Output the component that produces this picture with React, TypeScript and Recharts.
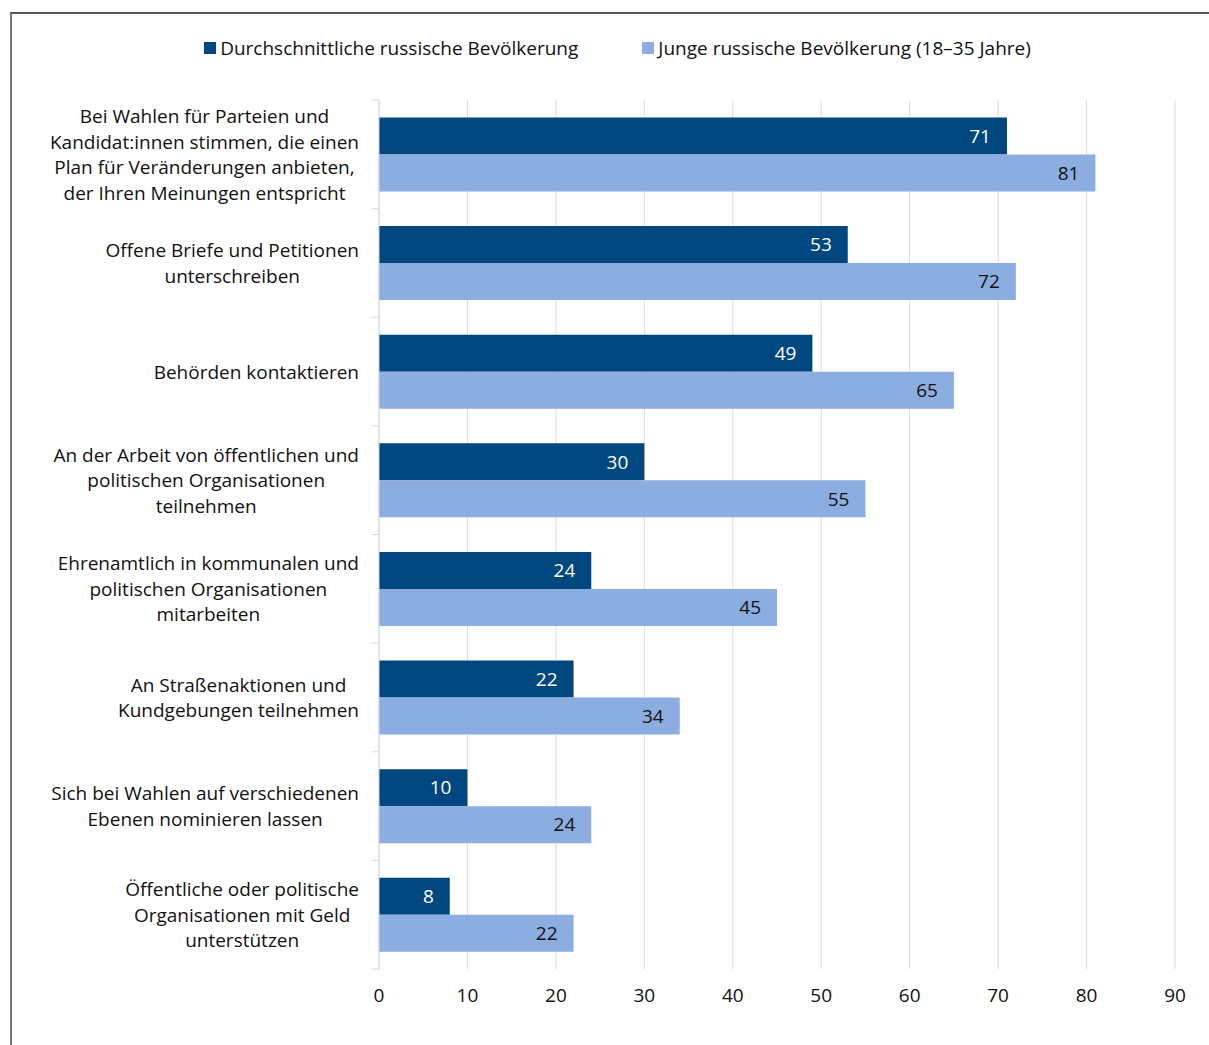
import React from "react";
import { BarChart, Bar, XAxis, YAxis, CartesianGrid, LabelList } from "recharts";

const categories = [
  "Bei Wahlen für Parteien und\nKandidat:innen stimmen, die einen\nPlan für Veränderungen anbieten,\nder Ihren Meinungen entspricht",
  "Offene Briefe und Petitionen\nunterschreiben",
  "Behörden kontaktieren",
  "An der Arbeit von öffentlichen und\npolitischen Organisationen\nteilnehmen",
  "Ehrenamtlich in kommunalen und\npolitischen Organisationen\nmitarbeiten",
  "An Straßenaktionen und\nKundgebungen teilnehmen",
  "Sich bei Wahlen auf verschiedenen\nEbenen nominieren lassen",
  "Öffentliche oder politische\nOrganisationen mit Geld\nunterstützen",
];
const averagePopulation = [71, 53, 49, 30, 24, 22, 10, 8];
const youngPopulation = [81, 72, 65, 55, 45, 34, 24, 22];
const xTicks = [0, 10, 20, 30, 40, 50, 60, 70, 80, 90];
const seriesNames = [
  "Durchschnittliche russische Bevölkerung",
  "Junge russische Bevölkerung (18–35 Jahre)",
];

const DARK = "#00467f";
const LIGHT = "#8badE0";
const FONT = "'Open Sans', 'Noto Sans', sans-serif";
const FONT_SIZE = 19;

const W = 1209;
const H = 1045;
// xaxis default height (30) is added to the bottom offset
const MARGIN = { top: 100, right: 34, bottom: 46, left: 0 };
const Y_AXIS_W = 379;
const BAND = (H - MARGIN.top - MARGIN.bottom - 30) / categories.length;

const data = categories.map((category, i) => ({
  category,
  avg: averagePopulation[i],
  young: youngPopulation[i],
}));

let ctx: CanvasRenderingContext2D | null = null;
function measure(s: string) {
  if (!ctx) {
    ctx = document.createElement("canvas").getContext("2d");
    if (ctx) ctx.font = `${FONT_SIZE}px ${FONT}`;
  }
  return ctx ? ctx.measureText(s).width : s.length * 9;
}

function CategoryTick(props: any) {
  const { x, y, payload, index } = props;
  const lines: string[] = String(payload.value).split("\n");
  const widest = Math.max(...lines.map(measure));
  const cx = x - 20 - widest / 2;
  const lh = 25.5;
  const y0 = y - ((lines.length - 1) * lh) / 2;
  return (
    <g>
      {index === 0 && (
        <line x1={x - 7} x2={x} y1={y - BAND / 2} y2={y - BAND / 2} stroke="#d9d9d9" />
      )}
      <line x1={x - 7} x2={x} y1={y + BAND / 2} y2={y + BAND / 2} stroke="#d9d9d9" />
      {lines.map((l, i) => (
        <text
          key={i}
          x={cx}
          y={y0 + i * lh}
          textAnchor="middle"
          dominantBaseline="central"
          fontSize={FONT_SIZE}
          fontFamily={FONT}
          fill="#111"
        >
          {l}
        </text>
      ))}
    </g>
  );
}

function LegendBox() {
  const colors = [DARK, LIGHT];
  return (
    <div
      style={{
        position: "absolute",
        top: 35,
        left: 0,
        width: W,
        display: "flex",
        justifyContent: "center",
        gap: 64,
        paddingLeft: 26,
        boxSizing: "border-box",
        fontFamily: FONT,
        fontSize: FONT_SIZE,
        color: "#111",
      }}
    >
      {seriesNames.map((n, i) => (
        <div key={n} style={{ display: "flex", alignItems: "center" }}>
          <span
            style={{ width: 12, height: 12, background: colors[i], marginRight: 4, display: "inline-block" }}
          />
          {n}
        </div>
      ))}
    </div>
  );
}

export default function App() {
  return (
    <div
      style={{
        position: "absolute",
        left: 0,
        top: 0,
        width: W,
        height: H,
        overflow: "hidden",
        background: "#fff",
      }}
    >
      <div
        style={{
          position: "absolute",
          left: 10,
          top: 12,
          width: W + 20,
          height: H + 20,
          borderLeft: "2px solid #777",
          borderTop: "2px solid #555",
        }}
      />
      <LegendBox />
      <div style={{ position: "absolute", left: 0, top: 0 }}>
        <BarChart
          width={W}
          height={H}
          data={data}
          layout="vertical"
          margin={MARGIN}
          barCategoryGap="16%"
          barGap={0}
        >
          <CartesianGrid horizontal={false} stroke="#dcdcdc" />
          <XAxis
            type="number"
            domain={[0, 90]}
            ticks={xTicks}
            axisLine={false}
            tickLine={false}
            tickSize={0}
            tickMargin={20}
            tick={{ fontSize: FONT_SIZE, fontFamily: FONT, fill: "#111" }}
          />
          <YAxis
            type="category"
            dataKey="category"
            width={Y_AXIS_W}
            axisLine={{ stroke: "#d9d9d9" }}
            tickLine={false}
            tickSize={0}
            tickMargin={0}
            interval={0}
            tick={<CategoryTick />}
          />
          <Bar dataKey="avg" fill={DARK} isAnimationActive={false}>
            <LabelList
              dataKey="avg"
              position="insideRight"
              offset={16}
              fill="#fff"
              fontSize={FONT_SIZE}
              fontFamily={FONT}
            />
          </Bar>
          <Bar dataKey="young" fill={LIGHT} isAnimationActive={false}>
            <LabelList
              dataKey="young"
              position="insideRight"
              offset={16}
              fill="#111"
              fontSize={FONT_SIZE}
              fontFamily={FONT}
            />
          </Bar>
        </BarChart>
      </div>
    </div>
  );
}
